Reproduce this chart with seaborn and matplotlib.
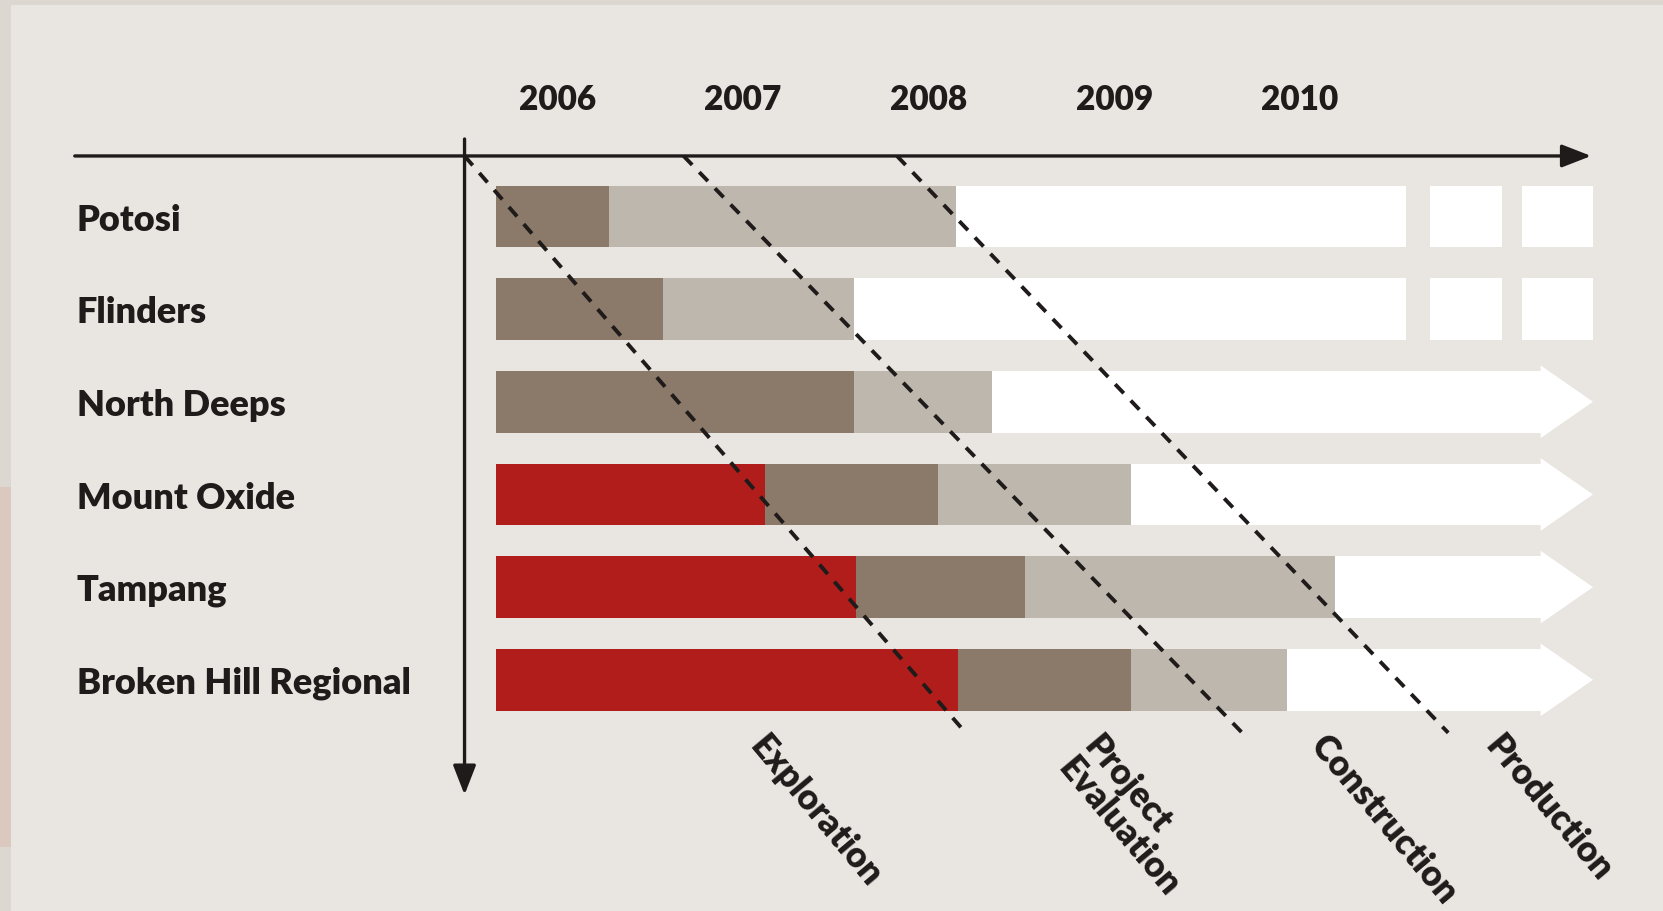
import numpy as np
import pandas as pd
import matplotlib
matplotlib.use("Agg")
import matplotlib.pyplot as plt
from matplotlib.patches import Rectangle
import seaborn as sns

# ---- data -------------------------------------------------------------
projects = ["Potosi", "Flinders", "North Deeps", "Mount Oxide", "Tampang",
            "Broken Hill Regional"]
years = [2006, 2007, 2008, 2009, 2010]
phase_labels = ["Exploration", "Project\nEvaluation", "Construction", "Production"]

bar_start = 2006.17
exploration_end = [2006.17, 2006.17, 2006.17, 2007.62, 2008.11, 2008.66]
evaluation_end = [2006.78, 2007.07, 2008.10, 2008.55, 2009.02, 2009.59]
construction_end = [2008.65, 2008.10, 2008.84, 2009.59, 2010.69, 2010.43]
production_end = 2012.08
# projects whose production is shown as separate planned blocks
block_projects = ["Potosi", "Flinders"]
production_gaps = [(2011.07, 2011.20), (2011.59, 2011.70)]
arrow_base = 2011.80

# dashed phase fronts (year at the time axis, year at the lower end)
front_top = [2006.00, 2007.18, 2008.33]
front_bottom = [2008.70, 2010.19, 2011.30]

# phase label anchors (year)
phase_label_x = [2007.64, 2009.44, 2010.66, 2011.60]

# ---- style ------------------------------------------------------------
sns.set_theme(style="white")
plt.rcParams["font.family"] = ["Lato", "DejaVu Sans"]

RED = "#B01D1B"
BROWN = "#8B7A69"
GREY = "#BDB7AD"
WHITE = "#FFFFFF"
PANEL = "#E9E5E1"
FRAME = "#DCD8D1"
INK = "#1E1B1A"
WEIGHT = "heavy"

fig = plt.figure(figsize=(16.63, 9.12), dpi=100, facecolor=FRAME)
ax = fig.add_axes([0, 0, 1, 1])
ax.set_facecolor(FRAME)

# inner panel
ax.add_patch(Rectangle((10 / 1568, 0), 1, 1 - 6 / 860, transform=ax.transAxes,
                       facecolor=PANEL, edgecolor="none", zorder=0))
ax.add_patch(Rectangle((0, 60 / 860), 10 / 1568, 340 / 860, transform=ax.transAxes,
                       facecolor="#DBC9C0", edgecolor="none", zorder=0))

n = len(projects)
bar_h = 0.664

starts = np.full(n, bar_start)
expl = np.array(exploration_end)
evl = np.array(evaluation_end)
cons = np.array(construction_end)

df = pd.DataFrame({"project": projects})
layers = [
    (starts, expl, RED),
    (expl, evl, BROWN),
    (evl, cons, GREY),
]
for left, right, col in layers:
    sns.barplot(x=right - left, y=df["project"], left=left, orient="y",
                color=col, saturation=1, errorbar=None, width=bar_h,
                linewidth=0, ax=ax, zorder=2)

# production stage
for i, name in enumerate(projects):
    if name in block_projects:
        edges = [cons[i]]
        for g0, g1 in production_gaps:
            edges += [g0, g1]
        edges.append(production_end)
        for a, b in zip(edges[0::2], edges[1::2]):
            ax.barh(i, b - a, left=a, height=bar_h, color=WHITE, linewidth=0, zorder=2)
    else:
        ax.barh(i, arrow_base - cons[i], left=cons[i], height=bar_h, color=WHITE,
                linewidth=0, zorder=2)
        hh = bar_h / 2 + 0.06
        ax.fill([arrow_base - 0.002, production_end, arrow_base - 0.002],
                [i - hh, i, i + hh], color=WHITE, linewidth=0, zorder=2)

# axis arrows
x_left, x_right = 2003.90, 2012.07
y_axis_row = -0.652
arrow_kw = dict(arrowstyle="-|>,head_length=0.9,head_width=0.35",
                color=INK, lw=2.4, shrinkA=0, shrinkB=0, mutation_scale=20)
ax.annotate("", xy=(x_right, y_axis_row), xytext=(x_left, y_axis_row),
            arrowprops=arrow_kw, zorder=5)
ax.annotate("", xy=(2006.0, 6.24), xytext=(2006.0, -0.835),
            arrowprops=arrow_kw, zorder=5)

# dashed phase fronts
for t, b in zip(front_top, front_bottom):
    ax.plot([t, b], [y_axis_row, 5.572], color=INK, lw=2.8,
            linestyle=(0, (3.2, 2.6)), zorder=4)

# year labels
for yr in years:
    ax.text(yr + 0.5, -1.27, str(yr), ha="center", va="center",
            fontsize=24, fontweight=WEIGHT, color=INK)

# project labels
for i, name in enumerate(projects):
    ax.text(2003.91, i + 0.03, name, ha="left", va="center", fontsize=26,
            fontweight=WEIGHT, color=INK)

# phase labels
for xp, lab in zip(phase_label_x, phase_labels):
    ax.text(xp, 5.53, lab, ha="left", va="top", rotation=-50,
            rotation_mode="anchor", fontsize=25.5, fontweight=WEIGHT,
            color=INK, linespacing=1.0)

ax.set_xlim(2003.4971, 2012.4571)
ax.set_ylim(7.4943, -2.3455)
ax.axis("off")

fig.savefig("out.png", dpi=100, facecolor=FRAME)
